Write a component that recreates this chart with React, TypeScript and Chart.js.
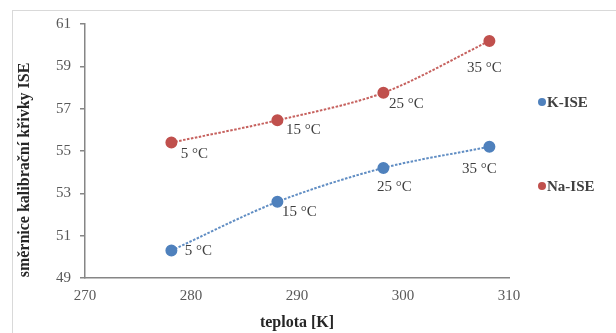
import { useEffect, useRef } from "react";
import { Chart, registerables } from "chart.js";

Chart.register(...registerables);

// Calibration slope of the ion-selective electrodes vs. temperature
const temperaturesK = [278.15, 288.15, 298.15, 308.15];
const temperatureLabels = ["5 °C", "15 °C", "25 °C", "35 °C"];
const kIseSlopes = [50.3, 52.6, 54.2, 55.2];
const naIseSlopes = [55.4, 56.45, 57.75, 60.2];
const seriesNames = ["K-ISE", "Na-ISE"];
const xTickValues = [270, 280, 290, 300, 310];
const yTickValues = [49, 51, 53, 55, 57, 59, 61];

const xTitle = "teplota [K]";
const yTitle = "směrnice kalibrační křivky ISE";

const BLUE = "#4F81BD";
const RED = "#C0504D";
const SERIF = "'Liberation Serif', 'Times New Roman', serif";

// where each temperature label sits relative to its point [dx, dy]
const kLabelOffsets = [
  [27, 1],
  [22, 10],
  [11, 19],
  [-10, 22],
];
const naLabelOffsets = [
  [23, 12],
  [26, 10],
  [23, 11],
  [-5, 27],
];

const toPoints = (ys: number[]) => temperaturesK.map((x, i) => ({ x, y: ys[i] }));

const frame = {
  id: "frame",
  beforeDraw(chart: any) {
    const { ctx } = chart;
    ctx.save();
    ctx.fillStyle = "#ffffff";
    ctx.fillRect(0, 0, chart.width, chart.height);
    ctx.strokeStyle = "#d9d9d9";
    ctx.lineWidth = 1;
    ctx.strokeRect(12.5, 10.5, chart.width + 20, chart.height + 20);
    ctx.restore();
  },
};

const pointLabels = {
  id: "pointLabels",
  afterDatasetsDraw(chart: any) {
    const { ctx } = chart;
    const offsets = [kLabelOffsets, naLabelOffsets];
    ctx.save();
    ctx.font = `15px ${SERIF}`;
    ctx.fillStyle = "#404040";
    ctx.textAlign = "center";
    ctx.textBaseline = "middle";
    chart.data.datasets.forEach((_ds: any, di: number) => {
      const meta = chart.getDatasetMeta(di);
      meta.data.forEach((el: any, i: number) => {
        const [dx, dy] = offsets[di][i];
        ctx.fillText(temperatureLabels[i], el.x + dx, el.y + dy);
      });
    });
    ctx.restore();
  },
};

const sideLegend = {
  id: "sideLegend",
  afterDraw(chart: any) {
    const { ctx, chartArea } = chart;
    const colors = [BLUE, RED];
    ctx.save();
    ctx.font = `bold 15px ${SERIF}`;
    ctx.textBaseline = "middle";
    ctx.textAlign = "left";
    seriesNames.forEach((name, i) => {
      const x = chartArea.right + 33;
      const y = chartArea.top + 78 + i * 84;
      ctx.fillStyle = colors[i];
      ctx.beginPath();
      ctx.arc(x, y, 4, 0, Math.PI * 2);
      ctx.fill();
      ctx.fillStyle = "#404040";
      ctx.fillText(name, x + 5, y + 1);
    });
    ctx.restore();
  },
};

const yAxisTitle = {
  id: "yAxisTitle",
  afterDraw(chart: any) {
    const { ctx, chartArea } = chart;
    ctx.save();
    ctx.font = `bold 16px ${SERIF}`;
    ctx.fillStyle = "#262626";
    ctx.textAlign = "center";
    ctx.textBaseline = "middle";
    ctx.translate(25, (chartArea.top + chartArea.bottom) / 2 + 19);
    ctx.rotate(-Math.PI / 2);
    ctx.fillText(yTitle, 0, 0);
    ctx.restore();
  },
};

export default function App() {
  const canvasRef = useRef<HTMLCanvasElement | null>(null);

  useEffect(() => {
    if (!canvasRef.current) return;
    const chart = new Chart(canvasRef.current, {
      type: "scatter",
      data: {
        datasets: [
          {
            label: seriesNames[0],
            data: toPoints(kIseSlopes),
            showLine: true,
            tension: 0.3,
            borderColor: "rgba(79,129,189,0.9)",
            borderWidth: 2,
            borderDash: [2.5, 1.5],
            backgroundColor: BLUE,
            pointBackgroundColor: BLUE,
            pointBorderColor: BLUE,
            pointRadius: 5,
          },
          {
            label: seriesNames[1],
            data: toPoints(naIseSlopes),
            showLine: true,
            tension: 0.3,
            borderColor: "rgba(192,80,77,0.9)",
            borderWidth: 2,
            borderDash: [2.5, 1.5],
            backgroundColor: RED,
            pointBackgroundColor: RED,
            pointBorderColor: RED,
            pointRadius: 5,
          },
        ],
      },
      options: {
        responsive: false,
        animation: false,
        devicePixelRatio: 1,
        layout: { padding: { left: 0, top: 24, right: 107, bottom: 0 } },
        plugins: {
          legend: { display: false },
          tooltip: { enabled: false },
        },
        scales: {
          x: {
            type: "linear",
            min: xTickValues[0],
            max: xTickValues[xTickValues.length - 1],
            afterBuildTicks: (scale: any) => {
              scale.ticks = xTickValues.map((v) => ({ value: v }));
            },
            afterFit: (scale: any) => {
              scale.height = 55;
            },
            grid: { display: false, drawTicks: false },
            border: { display: true, color: "#868686", width: 1.5 },
            ticks: {
              padding: 9,
              color: "#595959",
              font: { family: SERIF, size: 15 },
            },
            title: {
              display: true,
              text: xTitle,
              color: "#262626",
              font: { family: SERIF, size: 16, weight: "bold" },
              padding: { top: 0, bottom: 1 },
            },
          },
          y: {
            type: "linear",
            min: yTickValues[0],
            max: yTickValues[yTickValues.length - 1],
            afterBuildTicks: (scale: any) => {
              scale.ticks = yTickValues.map((v) => ({ value: v }));
            },
            afterFit: (scale: any) => {
              scale.width = 85;
            },
            grid: {
              drawOnChartArea: false,
              drawTicks: true,
              tickLength: 5,
              color: "#868686",
              lineWidth: 1.5,
            },
            border: { display: true, color: "#868686", width: 1.5 },
            ticks: {
              padding: 9,
              color: "#595959",
              font: { family: SERIF, size: 15 },
            },
          },
        },
      },
      plugins: [frame, pointLabels, sideLegend, yAxisTitle],
    } as any);
    return () => chart.destroy();
  }, []);

  return (
    <div
      style={{
        position: "fixed",
        left: 0,
        top: 0,
        width: 616,
        height: 333,
        background: "#ffffff",
      }}
    >
      <canvas ref={canvasRef} width={616} height={333} />
    </div>
  );
}
